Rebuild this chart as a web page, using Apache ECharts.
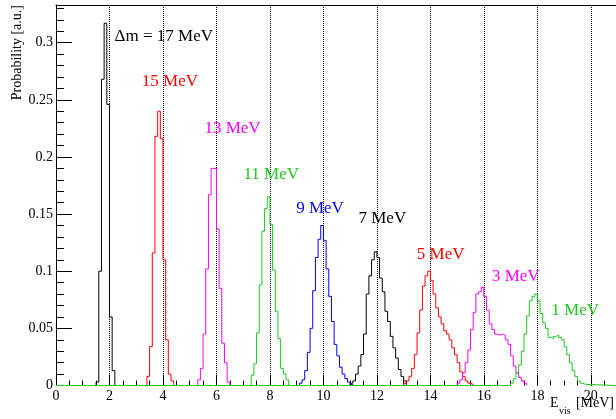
<!DOCTYPE html>
<html><head><meta charset="utf-8">
<script src="https://cdn.jsdelivr.net/npm/echarts@6/dist/echarts.min.js"></script>
<style>html,body{margin:0;padding:0;background:#fff}#c{width:616px;height:419px}</style>
</head><body><div id="c"></div>
<script>
// ---- data (bin width 0.1 MeV) ----
const binWidth = 0.1;
const seriesNames = ['\u0394m = 17 MeV', '15 MeV', '13 MeV', '11 MeV', '9 MeV', '7 MeV', '5 MeV', '3 MeV', '1 MeV'];
const binStarts = [1.5, 3.4, 5.3, 7.3, 9.1, 11.0, 13.0, 15.0, 17.0];
const dm17 = [0.003, 0.1, 0.268, 0.317, 0.246, 0.06, 0.013];
const dm15 = [0.008, 0.034, 0.116, 0.218, 0.24, 0.216, 0.11, 0.04, 0.01, 0.004];
const dm13 = [0.005, 0.015, 0.045, 0.102, 0.167, 0.19, 0.19, 0.137, 0.085, 0.037, 0.02, 0.003];
const dm11 = [0.009, 0.019, 0.046, 0.088, 0.135, 0.155, 0.165, 0.141, 0.101, 0.065, 0.041, 0.015, 0.01, 0.005];
const dm9 = [0.002, 0.005, 0.013, 0.029, 0.05, 0.083, 0.112, 0.128, 0.14, 0.127, 0.102, 0.078, 0.056, 0.036, 0.026, 0.016, 0.01, 0.006, 0.003, 0.001];
const dm7 = [0.002, 0.004, 0.01, 0.017, 0.027, 0.045, 0.08, 0.096, 0.11, 0.117, 0.112, 0.094, 0.082, 0.065, 0.056, 0.043, 0.033, 0.024, 0.014, 0.008, 0.004];
const dm5 = [0.002, 0.004, 0.008, 0.015, 0.027, 0.046, 0.066, 0.087, 0.096, 0.1, 0.092, 0.08, 0.068, 0.06, 0.054, 0.048, 0.045, 0.04, 0.033, 0.027, 0.02, 0.012, 0.008, 0.004, 0.002, 0.001];
const dm3 = [0.002, 0.005, 0.011, 0.02, 0.031, 0.049, 0.064, 0.08, 0.082, 0.086, 0.078, 0.066, 0.054, 0.049, 0.045, 0.044, 0.045, 0.044, 0.04, 0.036, 0.026, 0.017, 0.011, 0.007, 0.004, 0.002];
const dm1 = [0.002, 0.006, 0.011, 0.018, 0.03, 0.045, 0.061, 0.074, 0.078, 0.08, 0.074, 0.063, 0.055, 0.05, 0.042, 0.041, 0.043, 0.044, 0.042, 0.04, 0.034, 0.027, 0.02, 0.013, 0.008, 0.004, 0.002, 0.001];
const seriesValues = [dm17, dm15, dm13, dm11, dm9, dm7, dm5, dm3, dm1];
const seriesColors = ['#000000', '#ff0000', '#ff00ff', '#1ec81e', '#0000ff', '#000000', '#ff0000', '#ff00ff', '#1ec81e'];
// label anchor positions in data coordinates (left edge, vertical middle)
const labelX = [2.19, 3.21, 5.55, 7.01, 8.98, 11.31, 13.49, 16.3, 18.52];
const labelY = [0.305, 0.266, 0.225, 0.185, 0.155, 0.146, 0.115, 0.0955, 0.0656];
const xTickLabels = [0, 2, 4, 6, 8, 10, 12, 14, 16, 18, 20];
const yTickLabels = [0, 0.05, 0.1, 0.15, 0.2, 0.25, 0.3];
const xMax = 20.94, yMax = 0.333;

const FONT = 'Liberation Serif';
function buildHist(start, vals, full) {
  const pts = [];
  if (full) pts.push([0, 0]);
  pts.push([Math.round((start - binWidth) * 1000) / 1000, 0]);
  vals.forEach((v, i) => pts.push([Math.round((start + i * binWidth) * 1000) / 1000, v]));
  pts.push([Math.round((start + vals.length * binWidth) * 1000) / 1000, 0]);
  if (full) pts.push([xMax, 0]);
  return pts;
}
const series = seriesValues.map((vals, k) => ({
  type: 'line', name: seriesNames[k], step: 'end', symbol: 'none', silent: true,
  xAxisIndex: 0, yAxisIndex: 0, z: 2 + k * 0.01,
  data: buildHist(binStarts[k], vals, k === seriesValues.length - 1),
  lineStyle: { color: seriesColors[k], width: 1 },
  itemStyle: { color: seriesColors[k] },
  markPoint: {
    symbol: 'circle', symbolSize: 0, silent: true,
    data: [{ coord: [labelX[k], labelY[k]] }],
    label: { show: true, position: 'right', distance: 0, formatter: seriesNames[k],
      color: seriesColors[k], fontFamily: FONT, fontSize: 17 }
  }
}));

const chart = echarts.init(document.getElementById('c'), null, { renderer: 'canvas' });
const black = { color: '#000', width: 1 };
chart.setOption({
  animation: false,
  backgroundColor: '#fff',
  grid: { left: 56, right: 0, top: 5, bottom: 33.5, containLabel: false, outerBoundsMode: 'none' },
  xAxis: [
    { type: 'value', min: 0, max: xMax, interval: 2, position: 'bottom', z: 1,
      axisLine: { show: false, onZero: false, lineStyle: black },
      axisTick: { show: true, inside: true, length: 11, lineStyle: black },
      axisLabel: { show: true, margin: 4, color: '#000', fontFamily: FONT, fontSize: 14, showMaxLabel: false,
        formatter: v => (xTickLabels.includes(v) ? String(v) : '') },
      splitLine: { show: true, showMinLine: false, showMaxLine: false, lineStyle: { type: 'dotted', color: '#000', width: 1 } } },
    { type: 'value', min: 0, max: xMax, interval: 0.5, position: 'bottom',
      axisLine: { show: false, onZero: false }, axisTick: { show: true, inside: true, length: 5, lineStyle: black },
      axisLabel: { show: false }, splitLine: { show: false } },
    { type: 'value', min: 0, max: xMax, position: 'top',
      axisLine: { show: true, onZero: false, lineStyle: black }, axisTick: { show: false },
      axisLabel: { show: false }, splitLine: { show: false } }
  ],
  yAxis: [
    { type: 'value', min: 0, max: yMax, interval: 0.05, position: 'left',
      axisLine: { show: true, onZero: false, lineStyle: black },
      axisTick: { show: true, inside: true, length: 16, lineStyle: black },
      axisLabel: { show: true, margin: 3, color: '#000', fontFamily: FONT, fontSize: 14, showMaxLabel: false,
        formatter: v => { const r = Math.round(v * 100) / 100; return yTickLabels.includes(r) ? String(r) : ''; } },
      splitLine: { show: false } },
    { type: 'value', min: 0, max: yMax, interval: 0.01, position: 'left',
      axisLine: { show: false, onZero: false }, axisTick: { show: true, inside: true, length: 8, lineStyle: black },
      axisLabel: { show: false }, splitLine: { show: false } }
  ],
  graphic: [
    { type: 'text', x: 17, y: 5, rotation: Math.PI / 2, silent: true,
      style: { text: 'Probability [a.u.]', fontFamily: FONT, fontSize: 14, fill: '#000', textAlign: 'right', textVerticalAlign: 'middle' } },
    { type: 'text', x: 550, y: 403, silent: true,
      style: { text: 'E', fontFamily: FONT, fontSize: 14, fill: '#000', textAlign: 'left', textVerticalAlign: 'middle' } },
    { type: 'text', x: 559, y: 411, silent: true,
      style: { text: 'vis', fontFamily: FONT, fontSize: 10, fill: '#000', textAlign: 'left', textVerticalAlign: 'middle' } },
    { type: 'text', x: 614, y: 403, silent: true,
      style: { text: '[MeV]', fontFamily: FONT, fontSize: 14, fill: '#000', textAlign: 'right', textVerticalAlign: 'middle' } }
  ],
  series: series
});
</script></body></html>
